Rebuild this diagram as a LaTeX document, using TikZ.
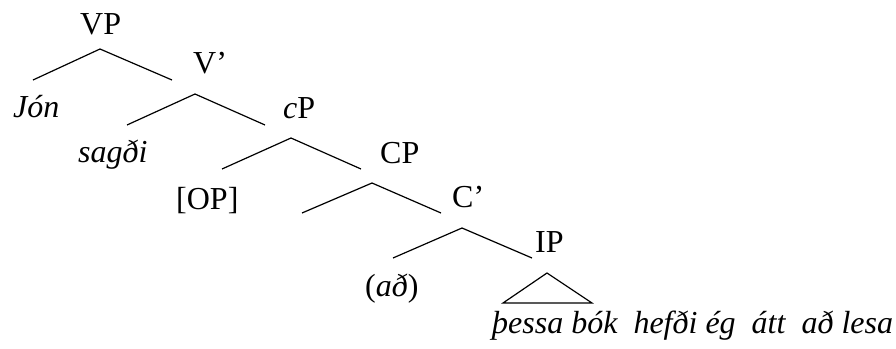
\documentclass[tikz,border=0pt]{standalone}
\usepackage{fontspec}
\setmainfont{Liberation Serif}
\begin{document}
\begin{tikzpicture}[x=1pt,y=-1pt,
  lbl/.style={inner sep=0pt,anchor=base west,font=\fontsize{32}{38}\selectfont},
  br/.style={line width=1.2pt}]
\useasboundingbox (0,0) rectangle (896,348);
% labels
\node[lbl] (vp) at (80,34) {VP};
\node[lbl] (vbar) at (193,73) {V’};
\node[lbl] (jon) at (13,117) {\itshape Jón};
\node[lbl] (sagdi) at (78,162) {\itshape sagði};
\node[lbl] (cp1) at (283,118) {\itshape c\upshape P};
\node[lbl] (cp2) at (380,163) {CP};
\node[lbl] (op) at (176,209) {[OP]};
\node[lbl] (cbar) at (452,207) {C’};
\node[lbl] (ip) at (535,252) {IP};
\node[lbl] (ad) at (365,296) {(\textit{að})};
\node[lbl] (str) at (492,333) {\itshape þessa bók\ \ hefði ég\ \ átt\ \ að lesa};
% branch coordinates
\coordinate (a1) at (100,49); \coordinate (l1) at (33,80); \coordinate (r1) at (172,80);
\coordinate (a2) at (195,94); \coordinate (l2) at (127,125); \coordinate (r2) at (265,125);
\coordinate (a3) at (291,138); \coordinate (l3) at (222,169); \coordinate (r3) at (361,169);
\coordinate (a4) at (372,183); \coordinate (l4) at (302,213); \coordinate (r4) at (441,213);
\coordinate (a5) at (462,228); \coordinate (l5) at (393,258); \coordinate (r5) at (532,258);
\coordinate (t1) at (547,273); \coordinate (t2) at (503,303); \coordinate (t3) at (592,303);
\draw[br] (l1) -- (a1) -- (r1);
\draw[br] (l2) -- (a2) -- (r2);
\draw[br] (l3) -- (a3) -- (r3);
\draw[br] (l4) -- (a4) -- (r4);
\draw[br] (l5) -- (a5) -- (r5);
\draw[br] (t1) -- (t2) -- (t3) -- cycle;
\end{tikzpicture}
\end{document}
